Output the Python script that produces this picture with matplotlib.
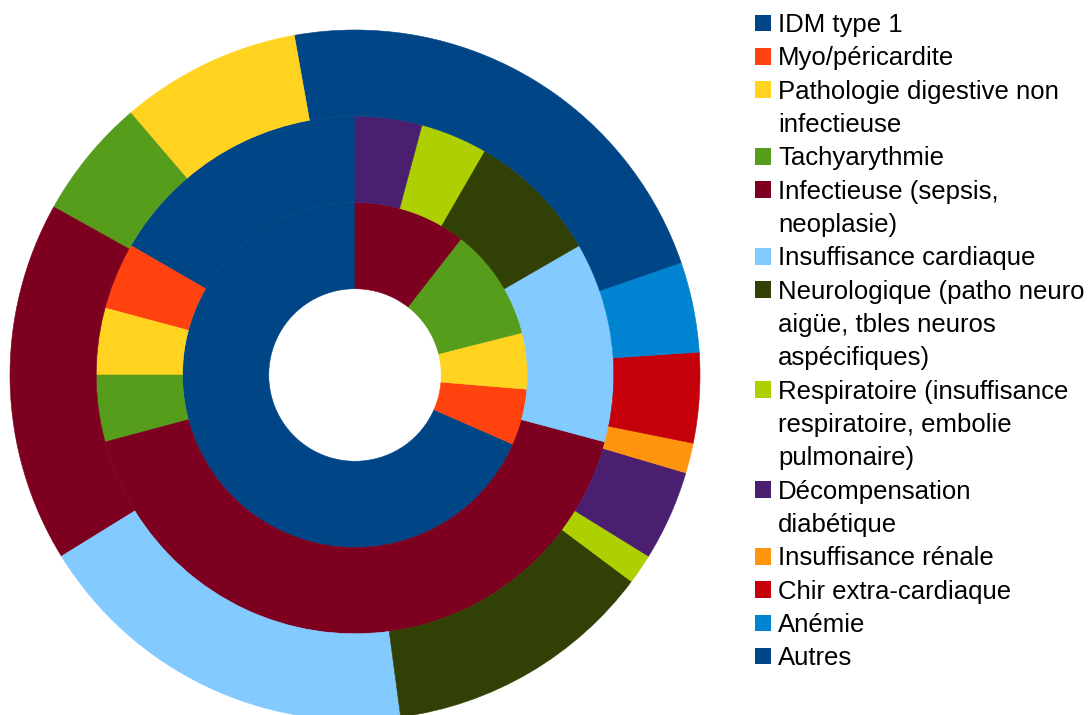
import matplotlib
matplotlib.use('Agg')
import matplotlib.pyplot as plt
from matplotlib.patches import Patch

plt.rcParams['font.family'] = ['Liberation Sans', 'DejaVu Sans']

categories = ['IDM type 1', 'Myo/péricardite', 'Pathologie digestive non\ninfectieuse',
              'Tachyarythmie', 'Infectieuse (sepsis,\nneoplasie)', 'Insuffisance cardiaque',
              'Neurologique (patho neuro\naigüe, tbles neuros\naspécifiques)',
              'Respiratoire (insuffisance\nrespiratoire, embolie\npulmonaire)',
              'Décompensation\ndiabétique', 'Insuffisance rénale', 'Chir extra-cardiaque',
              'Anémie', 'Autres']
colors = ['#004586', '#ff420e', '#ffd320', '#579d1c', '#7e0021', '#83caff', '#314004',
          '#aecf00', '#4b1f6f', '#ff950e', '#c5000b', '#0084d1', '#004586']

# three series, innermost first
inner = [13, 1, 1, 2, 2, 0, 0, 0, 0, 0, 0, 0, 0]
middle = [4, 1, 1, 1, 10, 3, 2, 1, 1, 0, 0, 0, 0]
outer = [2, 0, 6, 4, 12, 13, 9, 1, 3, 1, 3, 3, 14]

fig = plt.figure(figsize=(10.89, 7.15), dpi=100)
# 1 data unit = 345 px, centre at (355, 375) px from top-left
ax = fig.add_axes([10 / 1089, -5 / 715, 690 / 1089, 690 / 715])

for vals, r in [(inner, 0.5), (middle, 0.75), (outer, 1.0)]:
    wedges, _ = ax.pie(vals, colors=colors, radius=r, startangle=90, counterclock=True,
                       wedgeprops=dict(width=0.25, linewidth=0.4))
    for w, v in zip(wedges, vals):
        if v == 0:
            w.set_visible(False)
        else:
            w.set_edgecolor(w.get_facecolor())
ax.set_xlim(-1, 1)
ax.set_ylim(-1, 1)
ax.set_aspect('equal')
ax.axis('off')

# legend: one row per text line, continuation lines get an invisible handle
handles = []
labels = []
for name, c in zip(categories, colors):
    parts = name.split('\n')
    for i, p in enumerate(parts):
        if i == 0:
            handles.append(Patch(facecolor=c, edgecolor='none'))
        else:
            handles.append(Patch(facecolor='none', edgecolor='none'))
        labels.append(p)

fig.legend(handles, labels, loc='upper left',
           bbox_to_anchor=(755 / 1089, (715 - 13) / 715),
           frameon=False, fontsize=18.5, borderpad=0, borderaxespad=0,
           handlelength=0.62, handleheight=0.62, handletextpad=0.28,
           labelspacing=0.363)

fig.savefig('out.png', dpi=100)
